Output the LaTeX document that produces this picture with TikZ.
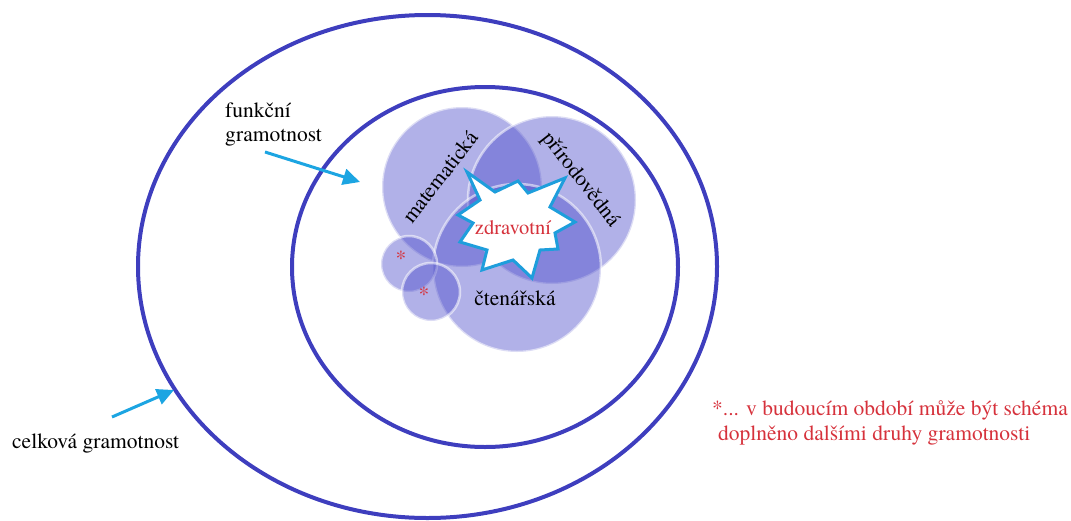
\documentclass[tikz,border=0pt]{standalone}
\usepackage{fontspec}
\newfontfamily\timesface{texgyretermes-regular.otf}
\usetikzlibrary{arrows.meta}
\definecolor{ringblue}{RGB}{62,62,190}
\definecolor{blobblue}{RGB}{70,70,200}
\definecolor{pointerblue}{RGB}{28,165,226}
\definecolor{starline}{RGB}{30,158,220}
\definecolor{notered}{RGB}{214,50,60}
\begin{document}
\begin{tikzpicture}[x=1pt,y=-1pt,
  ring/.style={draw=ringblue,line width=4pt},
  blob/.style={fill=blobblue,fill opacity=0.42,draw=white,draw opacity=0.55,line width=2.5pt},
  pointer/.style={draw=pointerblue,line width=3pt,-{Triangle[length=17pt,width=16pt]}},
  txt/.style={font=\timesface\fontsize{21.5}{24}\selectfont,inner sep=0pt},
  redtxt/.style={txt,text=notered},
  burst/.style={fill=white,draw=starline,line width=3pt,line join=miter}]
\useasboundingbox (0,0) rectangle (1071,520);

% the two literacy rings
\draw[ring] (427.5,266.5) ellipse [x radius=289.5pt, y radius=251.5pt];
\draw[ring] (485,267) ellipse [x radius=193pt, y radius=180pt];

% overlapping literacy areas
\draw[blob] (462,187) circle [radius=80pt];
\draw[blob] (552,200) circle [radius=84pt];
\draw[blob] (517,268) circle [radius=84pt];
\draw[blob] (409,264) circle [radius=28pt];
\draw[blob] (431,292) circle [radius=29pt];

% health literacy burst
\draw[burst] (513,227)
  ++(-46,-55) -- ++(28,20) -- ++(23,-11) -- ++(10,12) -- ++(37,-15)
  -- ++(-15,29) -- ++(25,15) -- ++(-20,11) -- ++(3,16) -- ++(-18,1)
  -- ++(-8,28) -- ++(-19,-18) -- ++(-31,10) -- ++(5,-20) -- ++(-27,-8)
  -- ++(13,-19) -- ++(-15,-8) -- ++(22,-15) -- cycle;
\node[redtxt,font=\timesface\fontsize{20.5}{24}\selectfont] (zdrav) at (513,228) {zdravotní};

% area labels
\node[txt,rotate=52] (mat) at (440,177) {matematická};
\node[txt,rotate=-52] (prir) at (580,180) {přírodovědná};
\node[txt] (cten) at (515,298) {čtenářská};
\node[redtxt] (ast1) at (401,258) {*};
\node[redtxt] (ast2) at (424,294) {*};

% ring labels and pointers
\node[txt,align=left,anchor=west] (funk) at (225,124) {funkční\\gramotnost};
\node[txt,anchor=west] (celk) at (12,443) {celková gramotnost};
\coordinate (funkStart) at (265,152);
\coordinate (funkTip) at (360,182);
\coordinate (celkStart) at (112,417);
\coordinate (celkTip) at (174,390);
\draw[pointer] (funkStart) -- (funkTip);
\draw[pointer] (celkStart) -- (celkTip);

% footnote
\node[redtxt,anchor=west] (note1) at (712,410) {*... v budoucím období může být schéma};
\node[redtxt,anchor=west] (note2) at (718,435) {doplněno dalšími druhy gramotnosti};
\end{tikzpicture}
\end{document}
